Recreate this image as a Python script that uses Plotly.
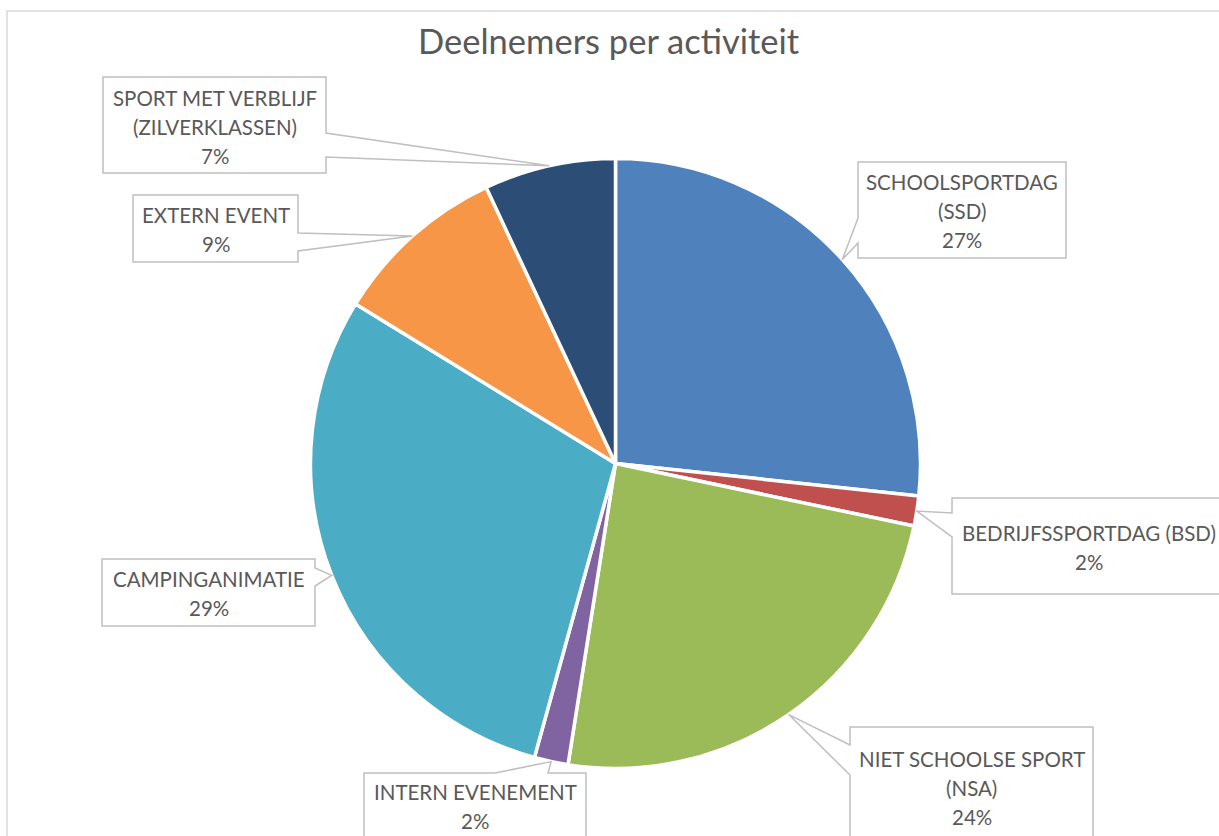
import math
import plotly.graph_objects as go

# ---- data -------------------------------------------------------------
categories = [
    "SCHOOLSPORTDAG (SSD)",
    "BEDRIJFSSPORTDAG (BSD)",
    "NIET SCHOOLSE SPORT (NSA)",
    "INTERN EVENEMENT",
    "CAMPINGANIMATIE",
    "EXTERN EVENT",
    "SPORT MET VERBLIJF (ZILVERKLASSEN)",
]
participants = [268, 16, 243, 18, 296, 93, 70]
colors = ["#4F81BD", "#C0504D", "#9BBB59", "#8064A2", "#4BACC6", "#F79646", "#2C4D75"]

# ---- layout constants (pixels) ------------------------------------------
W, H = 1219, 836
CX, CY, R = 615.5, 463.5, 305.0
TEXT_COLOR = "#595959"
BOX_COLOR = "#BFBFBF"
FONT = "Lato"
LABEL_SIZE = 20.5
LINE_GAP = 29

# callout placement per slice: name lines, box (x0, y0, x1, y1),
# side carrying the pointer, pointer base along that side, first text line y
callouts = [
    (["SCHOOLSPORTDAG", "(SSD)"], (858, 162, 1066, 258), "left", (218, 243), 182),
    (["BEDRIJFSSPORTDAG (BSD)"], (952, 498, 1226, 594), "left", (513, 537), 533),
    (["NIET SCHOOLSE SPORT", "(NSA)"], (850, 727, 1093, 870), "left", (745, 775), 759),
    (["INTERN EVENEMENT"], (364, 773, 586, 870), "top", (495, 548), 792),
    (["CAMPINGANIMATIE"], (102, 559, 315, 626), "right", (568, 586), 579),
    (["EXTERN EVENT"], (133, 195, 298, 262), "right", (233, 251), 215),
    (["SPORT MET VERBLIJF", "(ZILVERKLASSEN)"], (103, 77, 326, 173), "right", (133, 157), 98),
]


def px(x):
    return x / W


def py(y):
    return 1 - y / H


fig = go.Figure()
fig.add_trace(go.Pie(
    labels=categories,
    values=participants,
    sort=False,
    direction="clockwise",
    rotation=0,
    textinfo="none",
    hoverinfo="label+percent",
    marker=dict(colors=colors, line=dict(color="white", width=3.5)),
    showlegend=False,
    domain=dict(x=[px(CX - R), px(CX + R)], y=[py(CY + R), py(CY - R)]),
))

total = sum(participants)
shapes = [
    # outer chart frame
    dict(type="rect", xref="paper", yref="paper",
         x0=px(7), y0=py(11), x1=px(1235), y1=py(850),
         line=dict(color="#D9D9D9", width=1.5), fillcolor="rgba(0,0,0,0)", layer="below"),
]
annotations = []

cum = 0.0
for value, (lines, box, side, base, first_y) in zip(participants, callouts):
    mid = (cum + value / 2) / total * 2 * math.pi
    cum += value
    tip = (CX + R * math.sin(mid), CY - R * math.cos(mid))
    x0, y0, x1, y1 = box
    a, b = base
    if side == "left":
        pts = [(x0, y0), (x1, y0), (x1, y1), (x0, y1), (x0, b), tip, (x0, a)]
    elif side == "right":
        pts = [(x0, y0), (x1, y0), (x1, a), tip, (x1, b), (x1, y1), (x0, y1)]
    else:  # top
        pts = [(x0, y0), (a, y0), tip, (b, y0), (x1, y0), (x1, y1), (x0, y1)]
    path = "M " + " L ".join(f"{px(x):.5f},{py(y):.5f}" for x, y in pts) + " Z"
    shapes.append(dict(type="path", xref="paper", yref="paper", path=path,
                       line=dict(color=BOX_COLOR, width=1.5), fillcolor="white"))

    pct = f"{round(100 * value / total)}%"
    xc = (x0 + x1) / 2
    for i, text in enumerate(lines + [pct]):
        annotations.append(dict(
            x=px(xc), y=py(first_y + i * LINE_GAP), xref="paper", yref="paper",
            text=text, showarrow=False, xanchor="center", yanchor="middle",
            font=dict(family=FONT, size=LABEL_SIZE, color=TEXT_COLOR),
        ))

annotations.append(dict(
    x=px(608.5), y=py(41), xref="paper", yref="paper",
    text="Deelnemers per activiteit", showarrow=False,
    xanchor="center", yanchor="middle",
    font=dict(family=FONT, size=34.5, color=TEXT_COLOR),
))

fig.update_layout(
    width=W, height=H,
    margin=dict(l=0, r=0, t=0, b=0),
    paper_bgcolor="white",
    plot_bgcolor="white",
    shapes=shapes,
    annotations=annotations,
)

fig.write_html("out.html")
